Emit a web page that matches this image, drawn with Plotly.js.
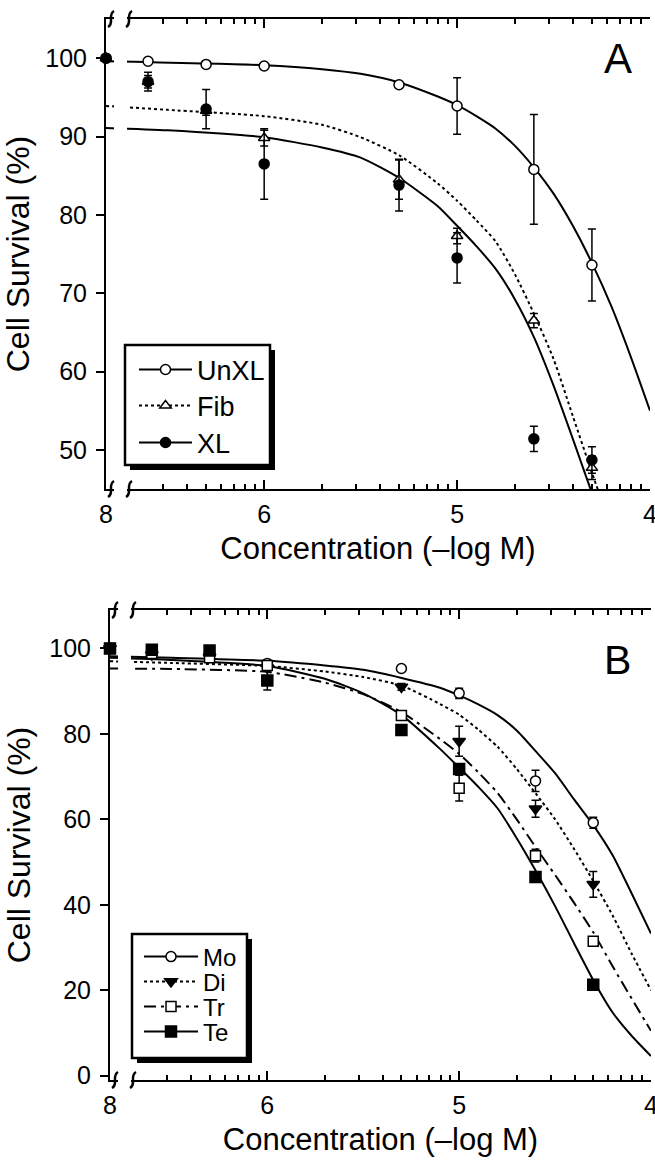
<!DOCTYPE html>
<html><head><meta charset="utf-8">
<script src="https://cdn.plot.ly/plotly-3.0.1.min.js"></script>
<style>html,body{margin:0;padding:0;background:#fff}#chart{width:655px;height:1163px}</style>
</head><body><div id="chart"></div>
<script>
const W = 655, H = 1163;
const FONT = 'Liberation Sans, Arial, Helvetica, sans-serif';
const CONTROL_POS = 6.82;            // axis position of the untreated control, labelled "8"

// concentrations (µM); 0 = control
const concUM = [0, 0.25, 0.5, 1, 5, 10, 25, 50];

// ---- Panel A: cell survival (%) ----
const unxlY   = [100, 99.6, 99.2, 99.0, 96.6, 93.9, 85.8, 73.6];
const unxlErr = [0, 0, 0, 0.3, 0, 3.6, 7.0, 4.6];
const fibY    = [100, 97.0, 93.3, 89.8, 84.5, 77.3, 66.5, 47.7];
const fibErr  = [0, 0.8, 0.6, 1.0, 2.5, 1.0, 0.9, 1.5];
const xlY     = [100, 97.0, 93.5, 86.5, 83.8, 74.5, 51.4, 48.7];
const xlErr   = [0, 1.2, 2.5, 4.5, 3.3, 3.2, 1.6, 1.7];

// fitted curves of panel A (x in -log M)
const unxlCurveX = [6.82, 6.0, 5.7, 5.5, 5.3, 5.1, 5.0, 4.9, 4.8, 4.7, 4.6, 4.5, 4.4, 4.3, 4.2, 4.1, 4.0];
const unxlCurveY = [99.6, 99.1, 98.6, 98.0, 96.9, 95.1, 94.0, 92.6, 91.0, 88.8, 86.0, 82.7, 78.6, 73.8, 68.3, 61.9, 55.0];
const fibCurveX  = [6.82, 6.5, 6.0, 5.7, 5.5, 5.3, 5.1, 5.0, 4.9, 4.8, 4.7, 4.6, 4.5, 4.4, 4.3, 4.25];
const fibCurveY  = [93.9, 93.4, 92.6, 91.5, 89.9, 87.6, 84.0, 81.8, 79.3, 76.6, 72.4, 67.3, 61.6, 54.3, 47.0, 43.5];
const xlCurveX   = [6.82, 6.5, 6.0, 5.7, 5.5, 5.3, 5.1, 5.0, 4.9, 4.8, 4.7, 4.6, 4.5, 4.4, 4.3];
const xlCurveY   = [91.1, 90.8, 89.9, 88.6, 87.3, 84.7, 81.1, 78.6, 76.0, 73.1, 69.2, 64.3, 58.2, 51.4, 44.4];

// ---- Panel B ----
const moY   = [100, 99.0, 98.5, 96.5, 95.3, 89.5, 69.0, 59.2];
const moErr = [0, 0, 0, 0, 0, 1.2, 2.5, 1.3];
const diY   = [100, 98.5, 98.0, 95.5, 91.0, 78.3, 62.5, 44.8];
const diErr = [0, 0, 0, 0, 0.8, 3.5, 2.0, 3.0];
const trY   = [100, 98.8, 97.8, 96.0, 84.3, 67.3, 51.5, 31.5];
const trErr = [0, 0, 0, 1.0, 0.8, 3.0, 1.5, 0.8];
const teY   = [100, 99.7, 99.5, 92.5, 80.9, 71.8, 46.5, 21.3];
const teErr = [0, 0, 0, 2.2, 0.8, 0.8, 0.8, 0.8];

const curveXB = [6.82, 6.5, 6.0, 5.7, 5.5, 5.3, 5.1, 5.0, 4.9, 4.8, 4.7, 4.6, 4.5, 4.4, 4.3, 4.2, 4.1, 4.0];
const moCurveY = [98.2, 97.8, 97.1, 96.0, 95.0, 93.1, 90.8, 89.0, 86.9, 84.4, 80.8, 75.9, 70.8, 64.6, 58.6, 51.6, 42.6, 33.3];
const diCurveY = [97.0, 96.6, 95.9, 94.6, 93.3, 91.3, 87.0, 84.5, 81.0, 77.0, 71.8, 66.0, 60.0, 53.0, 45.5, 37.5, 28.5, 20.0];
const trCurveY = [95.3, 95.2, 94.5, 92.0, 89.3, 85.1, 78.8, 75.3, 71.0, 66.2, 60.0, 53.4, 47.0, 40.4, 33.5, 25.6, 18.0, 10.5];
const teCurveY = [97.8, 97.3, 95.9, 92.9, 89.5, 84.4, 76.5, 72.1, 67.6, 62.6, 55.6, 47.9, 39.7, 30.9, 22.3, 14.8, 9.3, 4.6];

const xTickVals = [CONTROL_POS, 6, 5, 4];
const xTickText = ['8', '6', '5', '4'];
const yTicksA = [50, 60, 70, 80, 90, 100];
const yTicksB = [0, 20, 40, 60, 80, 100];

// ---------------------------------------------------------------
const toV = c => c === 0 ? CONTROL_POS : -Math.log10(c * 1e-6);
const minorTicks = [];
[3,4,5,6,7,8,9].forEach(k => minorTicks.push(7 - Math.log10(k)));
[2,3,4,5,6,7,8,9].forEach(k => { minorTicks.push(6 - Math.log10(k)); minorTicks.push(5 - Math.log10(k)); });

const DASH = {solid: 'solid', dot: '3px,3px', dashdot: '12px,5px,3px,5px'};

function pointTrace(name, ys, errs, sym, fill, size, dash, xa, ya, leg) {
  const xs = [], yy = [], ee = [];
  concUM.forEach((c, i) => {
    if (i) { xs.push(null); yy.push(null); ee.push(null); }
    xs.push(toV(c)); yy.push(ys[i]); ee.push(errs[i]);
  });
  return {
    type: 'scatter', mode: 'lines+markers', name: name, x: xs, y: yy,
    xaxis: xa, yaxis: ya, legend: leg, legendgroup: name, connectgaps: false,
    cliponaxis: false,
    line: {color: '#000', width: 2, dash: DASH[dash]},
    marker: {symbol: sym, size: size, color: fill, line: {color: '#000', width: 1.5}},
    error_y: {type: 'data', array: ee, visible: true, thickness: 1.5, width: 4, color: '#000'}
  };
}
function curveTrace(name, xs, ys, dash, xa, ya) {
  return {type: 'scatter', mode: 'lines', x: xs, y: ys, xaxis: xa, yaxis: ya,
    legendgroup: name, showlegend: false, hoverinfo: 'skip',
    line: {color: '#000', width: 2, dash: DASH[dash], shape: 'spline', smoothing: 0.6}};
}

const traces = [
  curveTrace('UnXL', unxlCurveX, unxlCurveY, 'solid', 'x', 'y'),
  curveTrace('Fib', fibCurveX, fibCurveY, 'dot', 'x', 'y'),
  curveTrace('XL', xlCurveX, xlCurveY, 'solid', 'x', 'y'),
  curveTrace('Mo', curveXB, moCurveY, 'solid', 'x2', 'y2'),
  curveTrace('Di', curveXB, diCurveY, 'dot', 'x2', 'y2'),
  curveTrace('Tr', curveXB, trCurveY, 'dashdot', 'x2', 'y2'),
  curveTrace('Te', curveXB, teCurveY, 'solid', 'x2', 'y2'),
  pointTrace('UnXL', unxlY, unxlErr, 'circle', '#fff', 10, 'solid', 'x', 'y', 'legend'),
  pointTrace('Fib', fibY, fibErr, 'triangle-up', '#fff', 10, 'dot', 'x', 'y', 'legend2'),
  pointTrace('XL', xlY, xlErr, 'circle', '#000', 10, 'solid', 'x', 'y', 'legend3'),
  pointTrace('Mo', moY, moErr, 'circle', '#fff', 10, 'solid', 'x2', 'y2', 'legend4'),
  pointTrace('Di', diY, diErr, 'triangle-down', '#000', 11, 'dot', 'x2', 'y2', 'legend5'),
  pointTrace('Tr', trY, trErr, 'square', '#fff', 10, 'dashdot', 'x2', 'y2', 'legend6'),
  pointTrace('Te', teY, teErr, 'square', '#000', 11, 'solid', 'x2', 'y2', 'legend7')
];

// ---------------------------------------------------------------
const fx = p => p / W, fy = p => 1 - p / H;
function xAxis(dom, anchor) {
  return {domain: dom, anchor: anchor, range: [CONTROL_POS, 4], tickmode: 'array',
    tickvals: xTickVals, ticktext: xTickText, ticks: 'inside', ticklen: 9, tickwidth: 2,
    tickcolor: '#000', showline: true, linewidth: 2, linecolor: '#000', mirror: 'ticks',
    showgrid: false, zeroline: false, tickfont: {size: 25, color: '#000'},
    ticklabeloverflow: 'allow', ticklabelstandoff: 2,
    minor: {tickmode: 'array', tickvals: minorTicks, ticks: 'inside', ticklen: 5, tickwidth: 2, tickcolor: '#000', showgrid: false},
    title: {text: 'Concentration (–log M)', font: {size: 31, color: '#000'}, standoff: 10},
    automargin: false, fixedrange: true};
}
function yAxis(dom, anchor, range, tv) {
  return {domain: dom, anchor: anchor, range: range, tickmode: 'array', tickvals: tv,
    ticks: 'outside', ticklen: 8, tickwidth: 2, tickcolor: '#000', showline: true, linewidth: 2,
    linecolor: '#000', showgrid: false, zeroline: false, tickfont: {size: 25, color: '#000'},
    ticklabelstandoff: 4,
    title: {text: 'Cell Survival (%)', font: {size: 32, color: '#000'}, standoff: 9},
    automargin: false, fixedrange: true};
}
function yRight(over, anchor, range, tv) {
  return {overlaying: over, anchor: anchor, side: 'right', range: range, tickmode: 'array',
    tickvals: tv, ticks: 'inside', ticklen: 8, tickwidth: 2, tickcolor: '#000', showline: true,
    linewidth: 2, linecolor: '#000', showticklabels: false, showgrid: false, zeroline: false,
    automargin: false, fixedrange: true};
}

// decorative axis-break marks and legend frames (pixel positions)
const shapes = [];
function rectPx(x0, y0, x1, y1, fill, lw) {
  shapes.push({type: 'rect', xref: 'paper', yref: 'paper', x0: fx(x0), x1: fx(x1), y0: fy(y0), y1: fy(y1),
    fillcolor: fill, line: {width: lw || 0, color: '#000'}, layer: 'above'});
}
function breakMark(cx, cy) {
  const p = (x, y) => fx(x) + ',' + fy(y);
  shapes.push({type: 'path', xref: 'paper', yref: 'paper', layer: 'above',
    path: 'M' + p(cx + 3, cy - 8) + ' C' + p(cx - 4, cy - 4) + ' ' + p(cx + 4, cy + 4) + ' ' + p(cx - 3, cy + 8),
    line: {color: '#000', width: 2.5}});
}
// panel A
rectPx(114, 12, 127, 160, '#fff');
rectPx(114, 476, 127, 496, '#fff');
[19, 489].forEach(y => { breakMark(111, y); breakMark(129, y); });
rectPx(130, 350, 275, 470, '#000');
rectPx(125, 345, 270, 465, '#fff', 2.5);
// panel B
rectPx(118, 603, 131, 720, '#fff');
rectPx(118, 1067, 131, 1087, '#fff');
[610, 1080].forEach(y => { breakMark(115, y); breakMark(133, y); });
rectPx(137, 939, 252, 1063, '#000');
rectPx(132, 934, 247, 1058, '#fff', 2.5);

function legendAt(xpx, ypx, size, iw) {
  return {x: fx(xpx), y: fy(ypx), xanchor: 'left', yanchor: 'middle', bgcolor: 'rgba(0,0,0,0)',
    borderwidth: 0, font: {size: size, color: '#000'}, itemwidth: iw};
}

const layout = {
  width: W, height: H, margin: {l: 0, r: 0, t: 0, b: 0},
  paper_bgcolor: '#fff', plot_bgcolor: '#fff',
  font: {family: FONT, color: '#000'},
  showlegend: true,
  xaxis: xAxis([106 / W, 650 / W], 'y'),
  yaxis: yAxis([fy(489), fy(19)], 'x', [45, 105], yTicksA),
  yaxis3: yRight('y', 'x', [45, 105], yTicksA),
  xaxis2: xAxis([110 / W, 651 / W], 'y2'),
  yaxis2: yAxis([fy(1080), fy(610)], 'x2', [-1, 109], yTicksB),
  yaxis4: yRight('y2', 'x2', [-1, 109], yTicksB),
  legend:  legendAt(134, 370, 27, 53),
  legend2: legendAt(134, 406, 27, 53),
  legend3: legendAt(134, 443, 27, 53),
  legend4: legendAt(139, 957, 24, 54),
  legend5: legendAt(139, 982, 24, 54),
  legend6: legendAt(139, 1007, 24, 54),
  legend7: legendAt(139, 1032, 24, 54),
  shapes: shapes,
  annotations: [
    {text: 'A', xref: 'paper', yref: 'paper', x: fx(618), y: fy(59), showarrow: false, font: {size: 42}, xanchor: 'center', yanchor: 'middle'},
    {text: 'B', xref: 'paper', yref: 'paper', x: fx(617), y: fy(660), showarrow: false, font: {size: 41}, xanchor: 'center', yanchor: 'middle'}
  ]
};

Plotly.newPlot('chart', traces, layout, {staticPlot: true, displayModeBar: false});
</script></body></html>
